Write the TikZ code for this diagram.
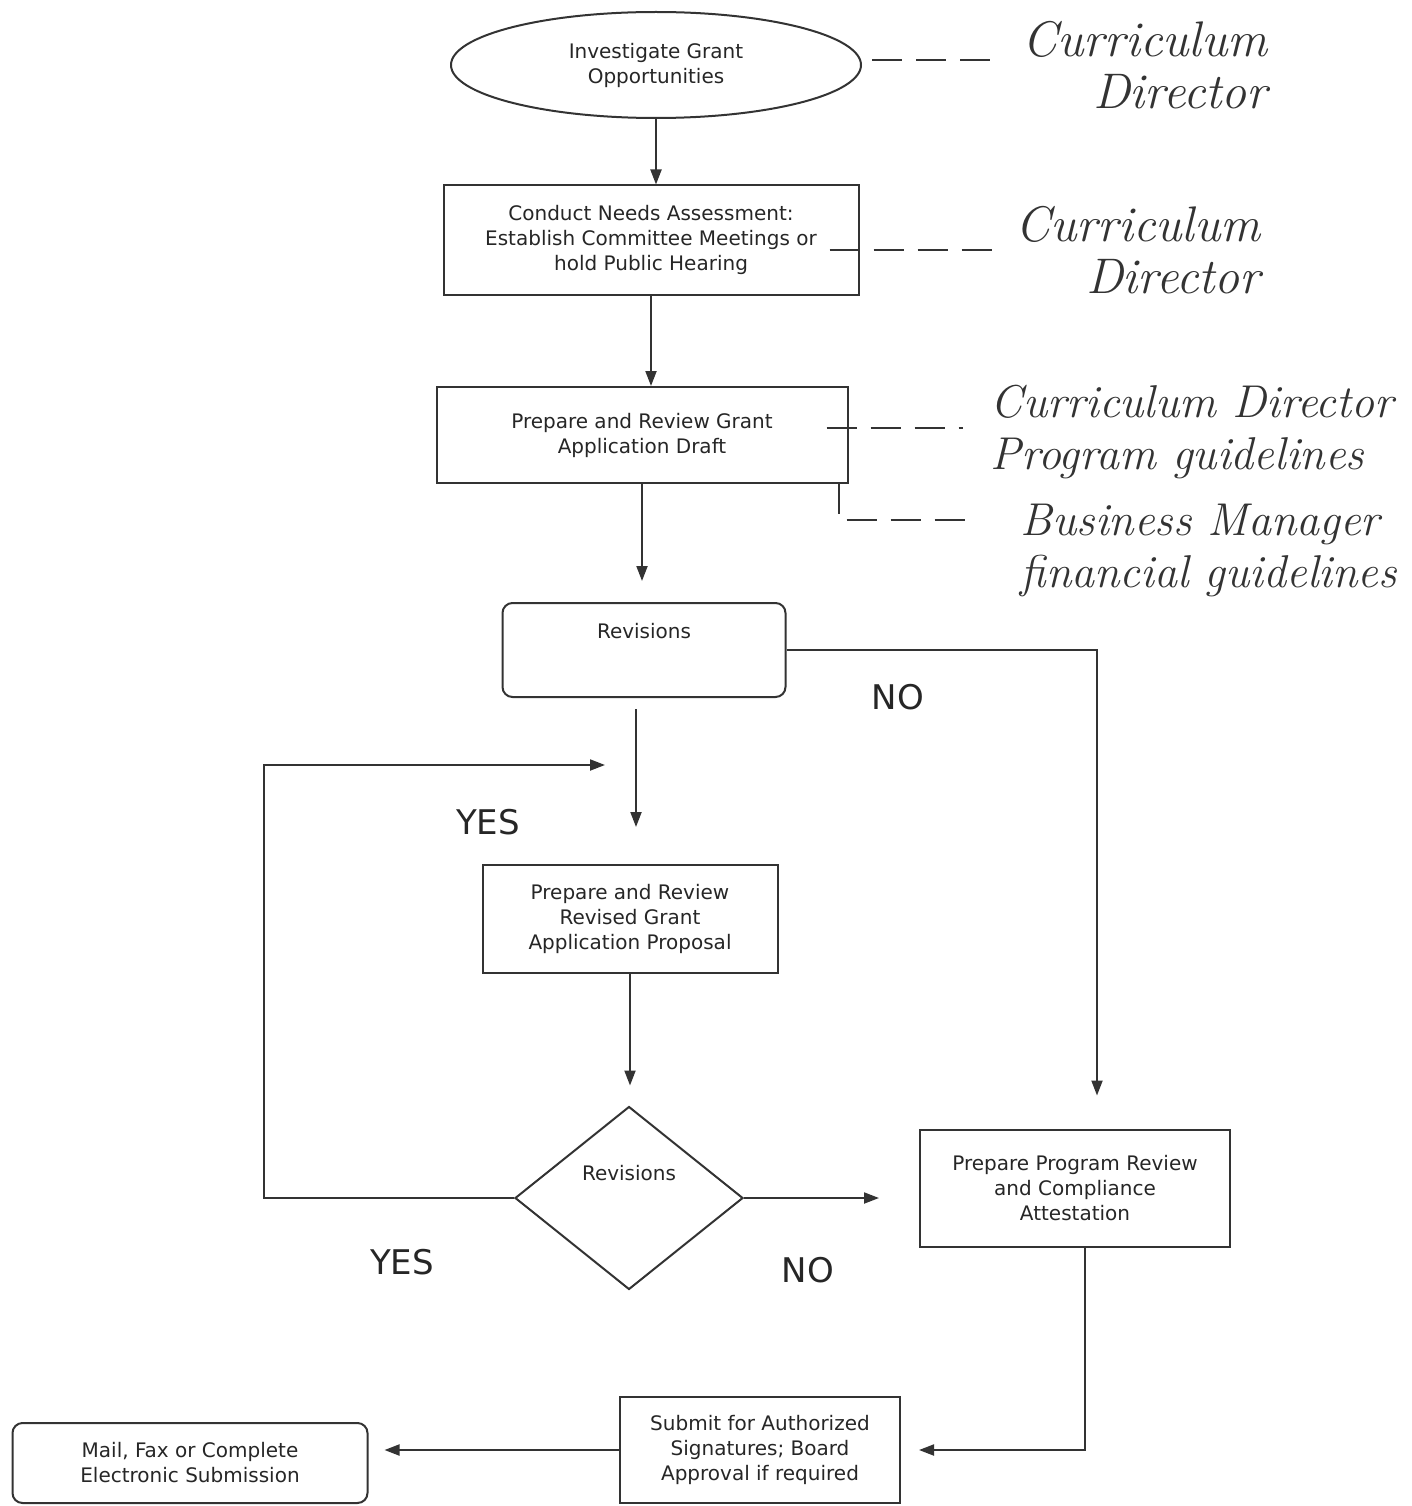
\documentclass[tikz,border=0pt]{standalone}
\usepackage{fontspec}
\setsansfont{DejaVu Sans}
\usetikzlibrary{shapes.geometric,arrows.meta}

\begin{document}
\begin{tikzpicture}[x=1pt,y=-1pt,
    every node/.style={font=\sffamily\fontsize{20}{25}\selectfont, text=black!85},
    procbox/.style 2 args={draw=black!80, line width=2pt, rectangle, align=center,
      minimum width=#1, minimum height=#2, inner sep=0pt},
    roundbox/.style 2 args={procbox={#1}{#2}, rounded corners=10pt},
    startend/.style={draw=black!80, line width=2pt, ellipse, align=center,
      minimum width=410pt, minimum height=106pt, inner sep=0pt},
    decision/.style={draw=black!80, line width=2pt, diamond,
      minimum width=228pt, minimum height=183pt, inner sep=0pt},
    answer/.style={font=\sffamily\fontsize{34}{40}\selectfont},
    hand/.style={font=\rmfamily\itshape\fontsize{50}{52}\selectfont, text=black!80},
    handsmall/.style={font=\rmfamily\itshape\fontsize{46}{52}\selectfont, text=black!80, align=left},
    flow/.style={draw=black!80, line width=2pt, -{Triangle[length=15pt,width=11pt]}},
    note/.style={draw=black!80, line width=2pt, dash pattern=on 30pt off 14pt, shorten >=24pt}]
  \useasboundingbox (0,0) rectangle (1412,1506);

  % main steps
  \node[startend] (invest) at (656,65) {Investigate Grant\\Opportunities};
  \node[procbox={415pt}{109pt}] (needs) at (651,240) {Conduct Needs Assessment:\\Establish Committee Meetings or\\hold Public Hearing};
  \node[procbox={411pt}{96pt}] (draft) at (642,435) {Prepare and Review Grant\\Application Draft};
  \node[roundbox={283pt}{94pt}, label={[yshift=19pt]center:Revisions}] (rev) at (644,650) {};
  \node[procbox={295pt}{108pt}] (revised) at (630,919) {Prepare and Review\\Revised Grant\\Application Proposal};
  \node[decision, label={[yshift=25pt]center:Revisions}] (check) at (629,1198) {};
  \node[procbox={310pt}{117pt}] (attest) at (1075,1188) {Prepare Program Review\\and Compliance\\Attestation};
  \node[procbox={280pt}{106pt}] (submit) at (760,1450) {Submit for Authorized\\Signatures; Board\\Approval if required};
  \node[roundbox={355pt}{80pt}] (mail) at (190,1463) {Mail, Fax or Complete\\Electronic Submission};

  % yes / no
  \node[answer] (yesloop) at (488,822) {YES};
  \node[answer] (noskip) at (898,697) {NO};
  \node[answer] (yesback) at (402,1262) {YES};
  \node[answer] (nodone) at (808,1270) {NO};

  % who does it (handwritten)
  \node[hand, align=right] (who1) at (1145,65) {Curriculum\\Director};
  \node[hand, align=right] (who2) at (1138,250) {Curriculum\\Director};
  \node[handsmall] (who3) at (1192,432) {Curriculum Director\\Program guidelines};
  \node[handsmall] (who4) at (1209,550) {Business Manager\\financial guidelines};

  \coordinate (loopin) at (605,765);

  % arrows
  \draw[flow] (invest.south) -- (invest.south |- needs.north);
  \draw[flow] (needs.south) -- (needs.south |- draft.north);
  \draw[flow, shorten >=21pt] (draft.south) -- (draft.south |- rev.north);
  \draw[flow, shorten <=11pt, shorten >=37pt] ([xshift=-8pt]rev.south) -- ([xshift=-8pt]rev.south |- revised.north);
  \draw[flow, shorten >=33pt] (rev.east) -| ([xshift=22pt]attest.north);
  \draw[flow, shorten >=20pt] (revised.south) -- (revised.south |- check.north);
  \draw[flow] (check.west) -- ++(-250,0) |- (loopin);
  \draw[flow, shorten >=40pt] (check.east) -- (check.east -| attest.west);
  \draw[flow, shorten >=18pt] ([xshift=10pt]attest.south) |- (submit.east);
  \draw[flow, shorten >=16pt] (submit.west) -- (submit.west -| mail.east);

  % dashed notes
  \draw[note, shorten <=10pt] ([yshift=5pt]invest.east) -- ([yshift=5pt]invest.east -| who1.west);
  \draw[note, shorten >=16pt] ([shift={(-30,10)}]needs.east) -- ([yshift=-10pt]needs.east -| who2.west);
  \draw[note] ([shift={(-22,-7)}]draft.east) -- ([yshift=7pt]draft.east -| who3.west);
  \draw[note, shorten >=40pt] ([xshift=-10pt]draft.south east) |- ([yshift=30pt]who4.west);
\end{tikzpicture}
\end{document}
